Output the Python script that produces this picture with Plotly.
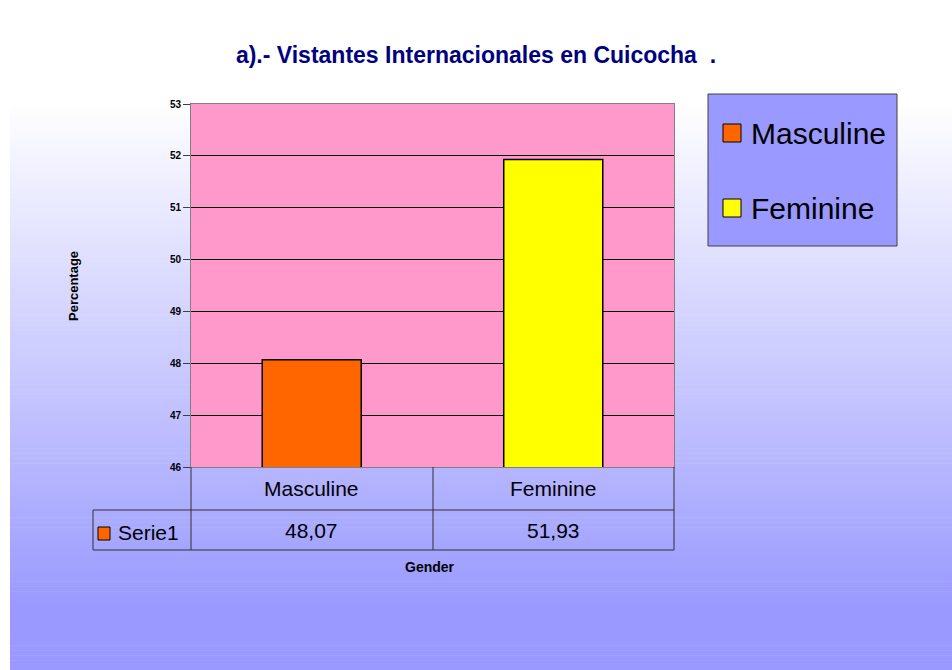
import plotly.graph_objects as go

# ---- data ----
categories = ["Masculine", "Feminine"]
values = [48.07, 51.93]
series_name = "Serie1"
bar_colors = ["#FF6600", "#FFFF00"]
title_text = "a).- Vistantes Internacionales en Cuicocha  ."
y_title = "Percentage"
x_title = "Gender"
y_range = [46, 53]

W, H = 952, 670
L, R, T, B = 191, 674, 104, 467  # plot area in pixels
pw, ph = R - L, B - T


def px(x):
    return (x - L) / pw


def py(y):
    return (B - y) / ph


fig = go.Figure()
for i, (c, v) in enumerate(zip(categories, values)):
    fig.add_trace(go.Bar(
        x=[c], y=[v], name=c, width=0.41,
        marker=dict(color=bar_colors[i], line=dict(color="black", width=1.5)),
        showlegend=False, hoverinfo="skip",
    ))

shapes = []
# gradient background
n = 134
top_g, bot_g = 100, 610
for k in range(n):
    y0 = 10 + k * (H - 10) / n
    y1 = 10 + (k + 1) * (H - 10) / n
    ym = (y0 + y1) / 2
    f = min(max((ym - top_g) / (bot_g - top_g), 0), 1)
    r = round(255 - f * (255 - 153))
    col = f"rgb({r},{r},255)"
    shapes.append(dict(type="rect", xref="paper", yref="paper", layer="below",
                       x0=px(10), x1=px(W), y0=py(y1 + 0.5), y1=py(y0),
                       fillcolor=col, line=dict(width=0)))
# pink plot area
shapes.append(dict(type="rect", xref="x domain", yref="y domain", layer="below",
                   x0=0, x1=1, y0=0, y1=1, fillcolor="#FF99CC", line=dict(width=0)))

# data table lines
lc = dict(color="#303030", width=1)
row1, row2 = 510, 550
for yy in (row1, row2):
    shapes.append(dict(type="line", xref="paper", yref="paper", x0=px(93), x1=px(R),
                       y0=py(yy), y1=py(yy), line=lc))
for xx in (L, 433, R):
    shapes.append(dict(type="line", xref="paper", yref="paper", x0=px(xx), x1=px(xx),
                       y0=py(B), y1=py(row2), line=lc))
shapes.append(dict(type="line", xref="paper", yref="paper", x0=px(93), x1=px(93),
                   y0=py(row1), y1=py(row2), line=lc))
# series key in table
shapes.append(dict(type="rect", xref="paper", yref="paper", x0=px(98), x1=px(110),
                   y0=py(540), y1=py(527), fillcolor=bar_colors[0],
                   line=dict(color="black", width=1)))

# legend box (drawn manually)
shapes.append(dict(type="rect", xref="paper", yref="paper", x0=px(708), x1=px(897),
                   y0=py(246), y1=py(94), fillcolor="#9999FF",
                   line=dict(color="#404040", width=1)))
legend_y = [133, 208]
for c, col, yy in zip(categories, bar_colors, legend_y):
    shapes.append(dict(type="rect", xref="paper", yref="paper", x0=px(723), x1=px(741),
                       y0=py(yy + 9), y1=py(yy - 9), fillcolor=col,
                       line=dict(color="black", width=1)))

annotations = []
for c, yy in zip(categories, legend_y):
    annotations.append(dict(x=px(749), y=py(yy), xref="paper", yref="paper", text=c,
                            showarrow=False, xanchor="left", yanchor="middle",
                            font=dict(family="Arial", size=30, color="black")))

tfont = dict(family="Arial", size=21, color="black")
for c, v in zip(categories, values):
    annotations.append(dict(x=c, y=py(488), xref="x", yref="paper", text=c,
                            showarrow=False, font=tfont, yanchor="middle"))
    annotations.append(dict(x=c, y=py(530), xref="x", yref="paper",
                            text=f"{v:.2f}".replace(".", ","),
                            showarrow=False, font=tfont, yanchor="middle"))
annotations.append(dict(x=px(116), y=py(532), xref="paper", yref="paper", text=series_name,
                        showarrow=False, font=tfont, xanchor="left", yanchor="middle"))
annotations.append(dict(x=px(430), y=py(567), xref="paper", yref="paper", text=x_title,
                        showarrow=False, font=dict(family="Arial", size=14, color="black",
                                                   weight="bold"), yanchor="middle"))
annotations.append(dict(x=px(73), y=py(286), xref="paper", yref="paper", text=y_title,
                        showarrow=False, textangle=-90,
                        font=dict(family="Arial", size=13, color="black", weight="bold"),
                        xanchor="center", yanchor="middle"))

fig.update_layout(
    width=W, height=H,
    margin=dict(l=L, r=W - R, t=T, b=H - B, autoexpand=False),
    paper_bgcolor="white",
    plot_bgcolor="rgba(0,0,0,0)",
    barmode="overlay",
    title=dict(text=title_text, x=0.5, xanchor="center", xref="container",
               y=1 - 55 / H, yanchor="middle", yref="container",
               font=dict(family="Arial", size=23, color="#000080", weight="bold")),
    xaxis=dict(range=[-0.5, 1.5], showticklabels=False, showgrid=False, zeroline=False,
               showline=True, linecolor="#808080", linewidth=1, mirror=True, ticks=""),
    yaxis=dict(range=y_range, dtick=1, showgrid=True, gridcolor="black", gridwidth=1,
               zeroline=False, showline=True, linecolor="#808080", linewidth=1, mirror=True,
               ticks="outside", ticklen=7, tickcolor="#404040",
               tickfont=dict(family="Arial", size=10, color="black", weight="bold")),
    shapes=shapes,
    annotations=annotations,
    showlegend=False,
)

fig.write_html("out.html", post_script="document.body.style.margin='0px';",
               config={"displayModeBar": False})
